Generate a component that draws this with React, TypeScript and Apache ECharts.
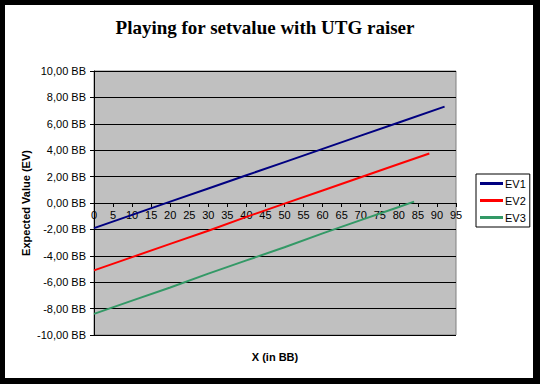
import React, { useEffect, useRef } from "react";
import * as echarts from "echarts";

const titleText = "Playing for setvalue with UTG raiser";
const yAxisTitle = "Expected Value (EV)";
const xAxisTitle = "X (in BB)";
const seriesNames = ["EV1", "EV2", "EV3"];
const ev1: [number, number][] = [[0, -1.9], [10, -0.9], [20, 0.1], [30, 1.1], [40, 2.1], [50, 3.1], [60, 4.1], [70, 5.1], [80, 6.1], [92, 7.3]];
const ev2: [number, number][] = [[0, -5.1], [10, -4.1], [20, -3.1], [30, -2.1], [40, -1.05], [50, -0.05], [60, 0.95], [70, 1.95], [80, 2.95], [88, 3.75]];
const ev3: [number, number][] = [[0, -8.4], [10, -7.4], [20, -6.4], [30, -5.35], [40, -4.35], [50, -3.35], [60, -2.3], [70, -1.3], [80, -0.3], [84, 0.1]];
const colors = ["#000080", "#ff0000", "#339966"];

export default function App() {
  const ref = useRef<HTMLDivElement>(null);
  useEffect(() => {
    if (!ref.current) return;
    const chart = echarts.init(ref.current, null, { renderer: "svg" });
    const font = "Arial, 'Liberation Sans', sans-serif";
    chart.setOption({
      animation: false,
      backgroundColor: "#ffffff",
      grid: {
        left: 89,
        top: 66,
        right: 77,
        bottom: 43,
        show: true,
        backgroundColor: "#c0c0c0",
        borderColor: "#808080",
        borderWidth: 1,
      },
      graphic: [
        {
          type: "text",
          x: 260,
          y: 22,
          style: {
            text: titleText,
            font: "bold 19px 'Liberation Serif', 'Times New Roman', serif",
            fill: "#000",
            align: "center",
            verticalAlign: "middle",
          },
        },
        {
          type: "text",
          x: 21,
          y: 198,
          rotation: Math.PI / 2,
          style: {
            text: yAxisTitle,
            font: "bold 11px " + font,
            fill: "#000",
            align: "center",
            verticalAlign: "middle",
          },
        },
        {
          type: "text",
          x: 270,
          y: 352,
          style: {
            text: xAxisTitle,
            font: "bold 11px " + font,
            fill: "#000",
            align: "center",
            verticalAlign: "middle",
          },
        },
      ],
      legend: {
        orient: "vertical",
        left: 471,
        top: 169,
        width: 52,
        padding: [4, 4, 4, 4],
        itemGap: 6,
        itemWidth: 23,
        itemHeight: 3,
        icon: "rect",
        borderColor: "#000",
        borderWidth: 1,
        backgroundColor: "#fff",
        borderRadius: 0,
        textStyle: { fontFamily: font, fontSize: 11, color: "#000", padding: [0, 0, 0, -3] },
        data: seriesNames,
      },
      xAxis: {
        type: "value",
        min: 0,
        max: 95,
        interval: 5,
        position: "bottom",
        offset: -132,
        splitLine: { show: false },
        axisLine: { show: true, onZero: false, lineStyle: { color: "#000", width: 1 } },
        axisTick: { show: true, length: 4, lineStyle: { color: "#000" } },
        axisLabel: { color: "#000", fontFamily: font, fontSize: 11, margin: 6, showMaxLabel: true, showMinLabel: true },
      },
      yAxis: {
        type: "value",
        min: -10,
        max: 10,
        interval: 2,
        splitLine: { show: true, lineStyle: { color: "#000", width: 1 } },
        axisLine: { show: true, onZero: false, lineStyle: { color: "#000", width: 1 } },
        axisTick: { show: true, length: 4, lineStyle: { color: "#000" } },
        axisLabel: {
          color: "#000",
          fontFamily: font,
          fontSize: 11,
          margin: 8,
          formatter: (v: number) => v.toFixed(2).replace(".", ",") + " BB",
        },
      },
      series: [ev1, ev2, ev3].map((d, i) => ({
        name: seriesNames[i],
        type: "line",
        data: d,
        symbol: "none",
        z: 3,
        lineStyle: { color: colors[i], width: 2 },
        itemStyle: { color: colors[i] },
      })),
    });
    return () => chart.dispose();
  }, []);
  return (
    <div style={{ position: "fixed", left: 0, top: 0, width: 540, height: 384, background: "#000" }}>
      <div
        ref={ref}
        style={{ position: "absolute", left: 5, top: 5, width: 528, height: 373, background: "#fff" }}
      />
    </div>
  );
}
